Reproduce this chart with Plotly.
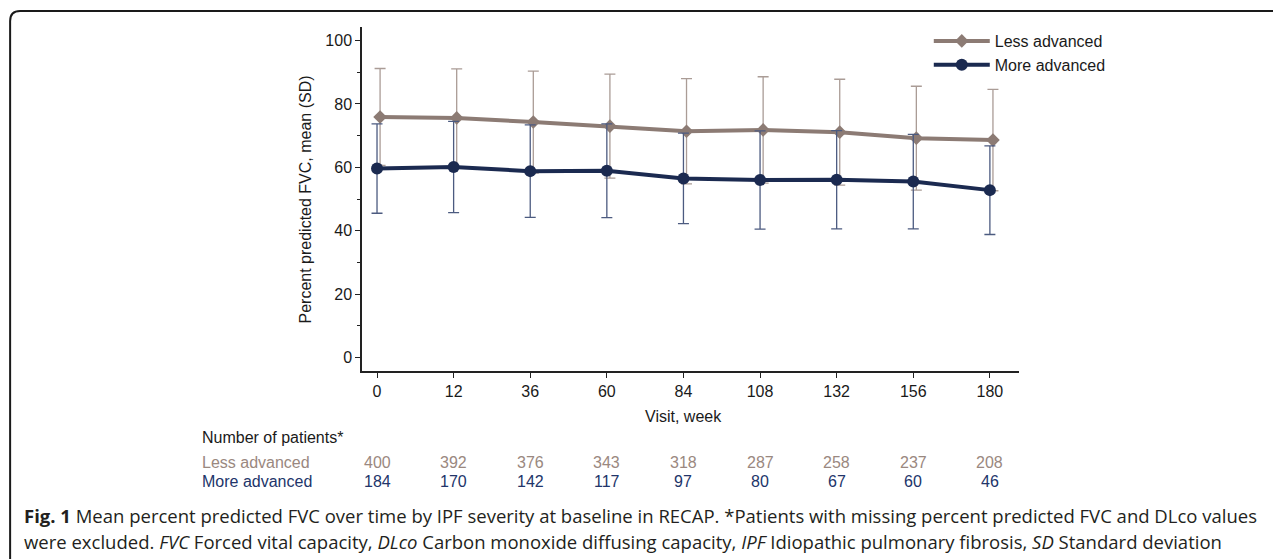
import plotly.graph_objects as go

weeks = [0, 12, 36, 60, 84, 108, 132, 156, 180]
less_mean = [75.9, 75.6, 74.3, 73.0, 71.4, 71.8, 71.1, 69.2, 68.6]
less_sd = [15.3, 15.5, 16.1, 16.4, 16.6, 16.8, 16.7, 16.4, 16.0]
more_mean = [59.6, 60.1, 58.8, 58.9, 56.5, 56.0, 56.1, 55.5, 52.8]
more_sd = [14.1, 14.4, 14.6, 14.8, 14.3, 15.5, 15.5, 14.9, 14.0]
less_n = [400, 392, 376, 343, 318, 287, 258, 237, 208]
more_n = [184, 170, 142, 117, 97, 80, 67, 60, 46]

LESS = "#8c7b74"
LESS_ERR = "#aa9c96"
MORE = "#1b2a50"
MORE_ERR = "#4c5b80"
LESS_TXT = "#9a8880"
MORE_TXT = "#22356a"
FONT = "Liberation Sans, Arial, sans-serif"
CAP_FONT = "Open Sans, Noto Sans, sans-serif"

OFF = 8  # page body margin
PAGE_W, PAGE_H = 1281, 559
W, H = PAGE_W - OFF, PAGE_H - OFF
# plot area in page pixels
PX_L, PX_R, PX_T, PX_B = 361.7, 1019.3, 27, 370.7
ML = PX_L - OFF
MT = PX_T - OFF
MR = W - (PX_R - OFF)
MB = H - (PX_B - OFF)
PW = PX_R - PX_L
PH = PX_B - PX_T


def px2x(px):
    return (px - PX_L) / PW


def px2y(py):
    return (PX_B - py) / PH


idx = list(range(len(weeks)))

fig = go.Figure()
fig.add_trace(go.Scatter(
    x=[i + 0.04 for i in idx], y=less_mean, name="Less advanced",
    mode="lines+markers",
    line=dict(color=LESS, width=4),
    marker=dict(symbol="diamond", size=10.5, color=LESS),
    error_y=dict(type="data", array=less_sd, visible=True,
                 color=LESS_ERR, thickness=1.3, width=5.5),
))
fig.add_trace(go.Scatter(
    x=idx, y=more_mean, name="More advanced",
    mode="lines+markers",
    line=dict(color=MORE, width=4),
    marker=dict(symbol="circle", size=12, color=MORE),
    error_y=dict(type="data", array=more_sd, visible=True,
                 color=MORE_ERR, thickness=1.3, width=5.5),
))

fig.update_layout(
    width=W, height=H,
    margin=dict(l=ML, r=MR, t=MT, b=MB, autoexpand=False),
    plot_bgcolor="white", paper_bgcolor="white",
    font=dict(family=FONT, size=16, color="#1a1a1a"),
    showlegend=True,
    legend=dict(x=px2x(929), y=px2y(24), xanchor="left", yanchor="top",
                bgcolor="rgba(0,0,0,0)", font=dict(size=16, color="#1a1a1a"),
                itemwidth=56, tracegroupgap=0),
)
fig.update_xaxes(
    range=[-0.196, 8.38], tickvals=idx, ticktext=[str(w) for w in weeks],
    showline=True, linecolor="#222", linewidth=1.5,
    ticks="outside", ticklen=5, tickcolor="#222", tickwidth=1.3,
    showgrid=False, zeroline=False, tickfont=dict(size=16, color="#1a1a1a"),
)
fig.update_yaxes(
    range=[-4.3, 104.3], tickvals=[0, 20, 40, 60, 80, 100],
    showline=True, linecolor="#222", linewidth=1.5,
    ticks="outside", ticklen=5, tickcolor="#222", tickwidth=1.3,
    minor=dict(tickvals=[10, 30, 50, 70, 90], ticks="outside", ticklen=3,
               tickcolor="#222", tickwidth=1.3),
    showgrid=False, zeroline=False, tickfont=dict(size=16, color="#1a1a1a"),
)

ann = []
ann.append(dict(text="Percent predicted FVC, mean (SD)", xref="paper", yref="paper",
                x=px2x(305), y=px2y(199), textangle=-90, showarrow=False,
                xanchor="center", yanchor="middle", font=dict(size=16)))
ann.append(dict(text="Visit, week", xref="x", yref="paper", x=4, y=px2y(416),
                showarrow=False, xanchor="center", yanchor="middle",
                font=dict(size=16)))
ann.append(dict(text="Number of patients*", xref="paper", yref="paper",
                x=px2x(200), y=px2y(436.7), showarrow=False,
                xanchor="left", yanchor="middle", font=dict(size=16)))
ann.append(dict(text="Less advanced", xref="paper", yref="paper",
                x=px2x(200), y=px2y(461.7), showarrow=False,
                xanchor="left", yanchor="middle", font=dict(size=16, color=LESS_TXT)))
ann.append(dict(text="More advanced", xref="paper", yref="paper",
                x=px2x(200), y=px2y(481), showarrow=False,
                xanchor="left", yanchor="middle", font=dict(size=16, color=MORE_TXT)))
for i, (a, b) in enumerate(zip(less_n, more_n)):
    ann.append(dict(text=str(a), xref="x", yref="paper", x=i, y=px2y(461.7),
                    showarrow=False, xanchor="center", yanchor="middle",
                    font=dict(size=16, color=LESS_TXT)))
    ann.append(dict(text=str(b), xref="x", yref="paper", x=i, y=px2y(481),
                    showarrow=False, xanchor="center", yanchor="middle",
                    font=dict(size=16, color=MORE_TXT)))

cap1 = ("<b>Fig. 1</b> Mean percent predicted FVC over time by IPF severity at baseline "
        "in RECAP. *Patients with missing percent predicted FVC and DLco values")
cap2 = ("were excluded. <i>FVC</i> Forced vital capacity, <i>DLco</i> Carbon monoxide "
        "diffusing capacity, <i>IPF</i> Idiopathic pulmonary fibrosis, <i>SD</i> Standard deviation")
ann.append(dict(text=cap1, xref="paper", yref="paper", x=px2x(22), y=px2y(515.5),
                showarrow=False, xanchor="left", yanchor="middle", borderpad=0,
                font=dict(family=CAP_FONT, size=18.5, color="#231f20")))
ann.append(dict(text=cap2, xref="paper", yref="paper", x=px2x(22), y=px2y(541.5),
                showarrow=False, xanchor="left", yanchor="middle", borderpad=0,
                font=dict(family=CAP_FONT, size=18.5, color="#231f20")))
fig.update_layout(annotations=ann)

# frame with rounded top-left corner
xl, yt, r = 9.5, 11, 10
path = (f"M {px2x(xl)},{px2y(PAGE_H + 2)} L {px2x(xl)},{px2y(yt + r)} "
        f"Q {px2x(xl)},{px2y(yt)} {px2x(xl + r)},{px2y(yt)} L {px2x(PAGE_W + 2)},{px2y(yt)}")
fig.add_shape(type="path", path=path, xref="paper", yref="paper",
              line=dict(color="#1a1a1a", width=2))

fig.write_html("out.html")
